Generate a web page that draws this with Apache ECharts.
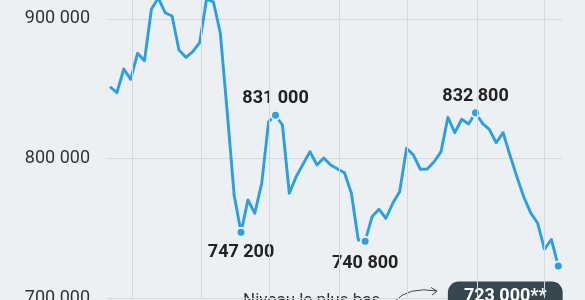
<!DOCTYPE html>
<html><head><meta charset="utf-8">
<script src="https://cdn.jsdelivr.net/npm/echarts@6/dist/echarts.min.js"></script>
<style>html,body{margin:0;padding:0;background:#edf0f3;}#c{width:585px;height:300px;}</style>
</head><body><div id="c"></div>
<script>
// Values (one point per period, evenly spaced)
const values = [851400,847100,864100,856700,875400,870100,906900,915000,904400,902100,
  877700,872500,876500,883000,914200,912100,889700,833300,773900,747200,
  770300,760800,782300,826400,831000,824000,775100,787000,796100,804900,
  795400,800400,795400,792500,789800,775100,741600,740800,758300,763600,
  757200,767900,776200,807300,802500,792300,792500,797700,804900,829500,
  818500,828100,824700,832800,825200,820900,811300,818500,802200,786800,
  772400,761000,753800,735000,742000,723000];
// Highlighted points: index -> label text ('' = dot only)
const highlightIdx = [14, 19, 24, 37, 53, 65];
const highlightText = ['', '747 200', '831 000', '740 800', '832 800', '723 000**'];
const highlightSide = ['top', 'bottom', 'top', 'bottom', 'top', 'box'];
// Period boundaries (vertical grid lines), in point-index units
const periodLines = [3.2, 13.2, 23.1, 33.2, 43.1, 53.2, 62.9];
// Y axis: lowest tick, tick step, visible top of the value range
const yMin = 700000, yStep = 100000, yTop = 913536;
const bottomNote = 'Niveau le plus bas';

const BG = '#edf0f3';
const BLUE = '#2b9fe0';
const fmt = v => String(v).replace(/\B(?=(\d{3})+(?!\d))/g, ' ');

const data = values.map((v, i) => {
  const k = highlightIdx.indexOf(i);
  if (k < 0) return { value: [i, v] };
  const item = {
    value: [i, v], symbol: 'circle', symbolSize: 9,
    itemStyle: { color: BLUE, borderColor: BG, borderWidth: 2 }
  };
  const side = highlightSide[k];
  if (highlightText[k]) {
    if (side === 'box') {
      item.label = {
        show: true, formatter: highlightText[k], position: 'bottom', distance: 10,
        offset: [-53, 0], color: '#fff', fontFamily: 'Roboto', fontWeight: 'bold', fontSize: 18,
        backgroundColor: '#37474f', borderRadius: 11, padding: [6, 16, 6, 16]
      };
    } else {
      item.label = {
        show: true, formatter: highlightText[k], position: side,
        distance: side === 'top' ? 2 : (i === 37 ? 8 : 6),
        color: '#222', fontFamily: 'Roboto', fontWeight: 'bold', fontSize: 18
      };
    }
  }
  return item;
});

const chart = echarts.init(document.getElementById('c'), null, { renderer: 'canvas' });
chart.setOption({
  backgroundColor: BG,
  animation: false,
  grid: { left: 107, right: 23, top: 0, bottom: 1.9, containLabel: false, outerBoundsMode: 'none' },
  xAxis: {
    type: 'value', min: -0.435, max: 65.54,
    axisLine: { show: false }, axisTick: { show: false }, axisLabel: { show: false },
    splitLine: { show: false }
  },
  yAxis: {
    type: 'value', min: yMin, max: yTop, interval: yStep,
    axisLine: { show: false }, axisTick: { show: false },
    axisLabel: { margin: 17, color: '#333', fontFamily: 'Roboto', fontSize: 18, showMaxLabel: false,
      formatter: v => (v % yStep === 0 ? fmt(v) : '') },
    splitLine: { show: true, showMaxLine: false, lineStyle: { color: '#d5d8dc', width: 1 } }
  },
  series: [
    {
      type: 'line', data: [], z: 1, silent: true,
      markLine: {
        silent: true, symbol: 'none', label: { show: false },
        lineStyle: { color: '#d5d8dc', width: 1, type: 'solid' },
        data: periodLines.map(x => ({ xAxis: x }))
      }
    },
    {
      type: 'line', data: data, z: 3, symbol: 'none', smooth: false,
      lineStyle: { color: BLUE, width: 2.9, join: 'round' },
      itemStyle: { color: BLUE }
    }
  ],
  graphic: [
    { type: 'text', left: 243, top: 292, style: { text: bottomNote, font: '17px Roboto', fill: '#333' } },
    { type: 'bezierCurve', shape: { x1: 394, y1: 302, cpx1: 408, cpy1: 286, x2: 437, y2: 291 },
      style: { stroke: '#444', lineWidth: 1, fill: null } },
    { type: 'polyline', shape: { points: [[431, 287.5], [437, 291], [432, 295]] },
      style: { stroke: '#444', lineWidth: 1, fill: null } }
  ]
});
</script></body></html>
